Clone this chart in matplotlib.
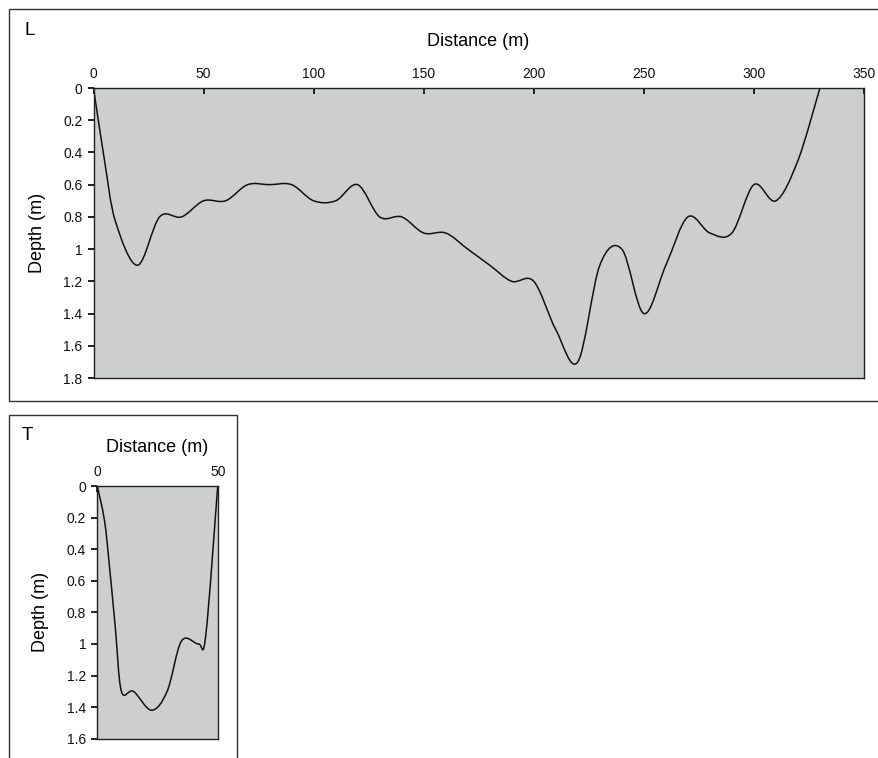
import matplotlib
matplotlib.use("Agg")
import matplotlib.pyplot as plt
from matplotlib.path import Path
from matplotlib.patches import PathPatch, Rectangle

plt.rcParams["font.family"] = ["Liberation Sans", "DejaVu Sans"]

# longitudinal profile (L)
long_dist = [0, 5, 10, 20, 30, 40, 50, 60, 70, 80, 90, 100, 110, 120, 130, 140,
             150, 160, 170, 180, 190, 200, 210, 220, 230, 240, 250, 260, 270,
             280, 290, 300, 310, 320, 330]
long_depth = [0, 0.45, 0.83, 1.1, 0.8, 0.8, 0.7, 0.7, 0.6, 0.6, 0.6, 0.7, 0.7, 0.6,
              0.8, 0.8, 0.9, 0.9, 1.0, 1.1, 1.2, 1.2, 1.5, 1.7, 1.1, 1.0, 1.4,
              1.1, 0.8, 0.9, 0.9, 0.6, 0.7, 0.45, 0]

# transverse profile (T)
trans_dist = [0, 3, 5, 7.5, 10, 15, 22.5, 29, 35, 42, 45, 50]
trans_depth = [0, 0.22, 0.5, 0.9, 1.3, 1.3, 1.42, 1.3, 0.98, 1.0, 0.95, 0]

long_xticks = [0, 50, 100, 150, 200, 250, 300, 350]
long_yticks = [0, 0.2, 0.4, 0.6, 0.8, 1, 1.2, 1.4, 1.6, 1.8]
trans_xticks = [0, 50]
trans_yticks = [0, 0.2, 0.4, 0.6, 0.8, 1, 1.2, 1.4, 1.6]

FILL = "#cdcfcf"
EDGE = "#222222"


def smooth_path(xs, ys):
    # excel-style smoothed line: bezier segments through every point
    pts = list(zip(xs, ys))
    n = len(pts)
    verts = [pts[0]]
    codes = [Path.MOVETO]
    for i in range(n - 1):
        p0 = pts[max(i - 1, 0)]
        p1 = pts[i]
        p2 = pts[i + 1]
        p3 = pts[min(i + 2, n - 1)]
        c1 = (p1[0] + (p2[0] - p0[0]) / 6, p1[1] + (p2[1] - p0[1]) / 6)
        c2 = (p2[0] - (p3[0] - p1[0]) / 6, p2[1] - (p3[1] - p1[1]) / 6)
        verts += [c1, c2, p2]
        codes += [Path.CURVE4] * 3
    return Path(verts, codes)


def style_axes(ax, xticks, yticks, xmax, ymax):
    ax.set_facecolor(FILL)
    ax.set_xlim(0, xmax)
    ax.set_ylim(ymax, 0)
    ax.xaxis.tick_top()
    ax.xaxis.set_label_position("top")
    ax.set_xticks(xticks)
    ax.set_yticks(yticks)
    ax.set_xticklabels([f"{v:g}" for v in xticks])
    ax.set_yticklabels([f"{v:g}" for v in yticks])
    ax.tick_params(axis="x", direction="in", length=4, width=1.3, pad=5,
                   labelsize=10, colors="#111111")
    ax.tick_params(axis="y", direction="out", length=4, width=1.3, pad=4,
                   labelsize=10, colors="#111111")
    for sp in ax.spines.values():
        sp.set_color(EDGE)
        sp.set_linewidth(1.0)


fig = plt.figure(figsize=(8.79, 7.58), dpi=100)

# outer frames
fig.patches.append(Rectangle((0.0099, 0.471), 1.1, 0.5167, transform=fig.transFigure,
                             fill=False, edgecolor="#333333", linewidth=1.0))
fig.patches.append(Rectangle((0.0099, -0.1), 0.2597, 0.5525, transform=fig.transFigure,
                             fill=False, edgecolor="#333333", linewidth=1.0))

ax1 = fig.add_axes([0.1064, 0.5013, 0.8765, 0.3826])
style_axes(ax1, long_xticks, long_yticks, 350, 1.8)
ax1.add_patch(PathPatch(smooth_path(long_dist, long_depth), fill=False,
                        edgecolor="#111111", linewidth=1.1))
ax1.set_xlabel("Distance (m)", fontsize=13)
ax1.xaxis.set_label_coords(0.499, 1.162)
ax1.xaxis.label.set_va("center")
ax1.set_ylabel("Depth (m)", fontsize=13)
ax1.yaxis.set_label_coords(-0.0727, 0.5)
ax1.yaxis.label.set_va("center")
fig.text(0.034, 0.960, "L", fontsize=13.5, ha="center", va="center")

ax2 = fig.add_axes([0.1107, 0.0255, 0.137, 0.3333])
style_axes(ax2, trans_xticks, trans_yticks, 50, 1.6)
ax2.add_patch(PathPatch(smooth_path(trans_dist, trans_depth), fill=False,
                        edgecolor="#111111", linewidth=1.1))
ax2.set_xlabel("Distance (m)", fontsize=13)
ax2.xaxis.set_label_coords(0.5, 1.152)
ax2.xaxis.label.set_va("center")
ax2.set_ylabel("Depth (m)", fontsize=13)
ax2.yaxis.set_label_coords(-0.468, 0.5)
ax2.yaxis.label.set_va("center")
fig.text(0.031, 0.425, "T", fontsize=13.5, ha="center", va="center")

fig.savefig("out.png", dpi=100)
